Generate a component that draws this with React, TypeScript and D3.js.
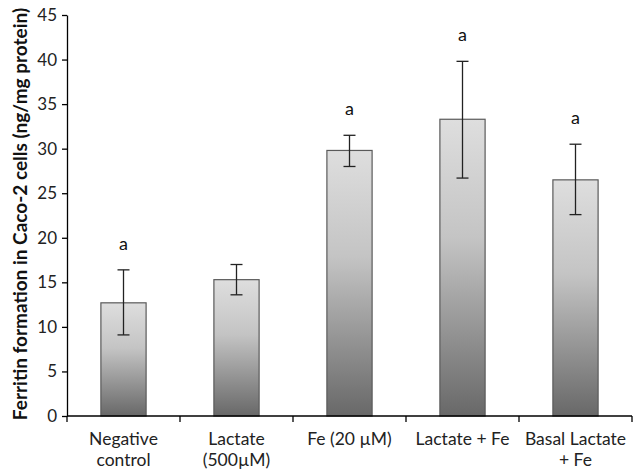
import React, { useEffect, useRef } from "react";
import * as d3 from "d3";

const categories = ["Negative|control", "Lactate|(500µM)", "Fe (20 µM)", "Lactate + Fe", "Basal Lactate|+ Fe"];
const values = [12.7, 15.3, 29.8, 33.3, 26.5];
const errLow = [9.1, 13.6, 28.0, 26.7, 22.6];
const errHigh = [16.4, 17.0, 31.5, 39.8, 30.5];
const letters = ["a", "", "a", "a", "a"];
const yTicks = [0, 5, 10, 15, 20, 25, 30, 35, 40, 45];

export default function App() {
  const ref = useRef<SVGSVGElement>(null);

  useEffect(() => {
    const svg = d3.select(ref.current);
    svg.selectAll("*").remove();
    const font = "Lato, 'Open Sans', sans-serif";
    const left = 67, right = 632, top = 15, bottom = 416;

    const x = d3.scaleBand().domain(categories).range([left, right]).padding(0);
    const y = d3.scaleLinear().domain([0, 45]).range([bottom, top]);

    const grad = svg.append("defs").append("linearGradient")
      .attr("id", "barGrad").attr("x1", 0).attr("y1", 0).attr("x2", 0).attr("y2", 1)
      .attr("gradientUnits", "objectBoundingBox");
    grad.append("stop").attr("offset", "0%").attr("stop-color", "#dedede");
    grad.append("stop").attr("offset", "40%").attr("stop-color", "#c4c4c4");
    grad.append("stop").attr("offset", "100%").attr("stop-color", "#686868");

    const bw = x.bandwidth() * 0.4;
    const cx = (c: string) => (x(c) as number) + x.bandwidth() / 2;

    // bars
    svg.append("g").selectAll("rect").data(categories).enter().append("rect")
      .attr("x", d => cx(d) - bw / 2)
      .attr("y", (d, i) => y(values[i]))
      .attr("width", bw)
      .attr("height", (d, i) => y(0) - y(values[i]))
      .attr("fill", "url(#barGrad)")
      .attr("stroke", "#5a5a5a")
      .attr("stroke-width", 1.2);

    // error bars
    const eg = svg.append("g").attr("stroke", "#222").attr("stroke-width", 1.3);
    categories.forEach((c, i) => {
      const xc = cx(c);
      eg.append("line").attr("x1", xc).attr("x2", xc).attr("y1", y(errLow[i])).attr("y2", y(errHigh[i]));
      eg.append("line").attr("x1", xc - 6).attr("x2", xc + 6).attr("y1", y(errLow[i])).attr("y2", y(errLow[i]));
      eg.append("line").attr("x1", xc - 6).attr("x2", xc + 6).attr("y1", y(errHigh[i])).attr("y2", y(errHigh[i]));
      if (letters[i]) {
        svg.append("text").attr("x", xc).attr("y", y(errHigh[i]) - 20)
          .attr("text-anchor", "middle").attr("font-family", font).attr("font-size", 18)
          .attr("fill", "#111").text(letters[i]);
      }
    });

    // y axis
    const ya = svg.append("g").attr("transform", `translate(${left},0)`)
      .call(d3.axisLeft(y).tickValues(yTicks).tickSize(5).tickSizeOuter(0));
    ya.select(".domain").attr("stroke", "#000").attr("stroke-width", 1.3);
    ya.selectAll(".tick line").attr("stroke", "#000").attr("stroke-width", 1.3);
    ya.selectAll("text").attr("font-family", font).attr("font-size", 17).attr("fill", "#222").attr("x", -10);

    // x axis
    const xa = svg.append("g");
    xa.append("line").attr("x1", left).attr("x2", right).attr("y1", bottom).attr("y2", bottom)
      .attr("stroke", "#000").attr("stroke-width", 1.3);
    const bounds = categories.map(c => x(c) as number).concat([right]);
    xa.selectAll(".tk").data(bounds).enter().append("line")
      .attr("x1", d => d).attr("x2", d => d).attr("y1", bottom).attr("y2", bottom + 6)
      .attr("stroke", "#000").attr("stroke-width", 1.3);
    categories.forEach(c => {
      const t = xa.append("text").attr("x", cx(c)).attr("y", 445)
        .attr("text-anchor", "middle").attr("font-family", font).attr("font-size", 17.5).attr("fill", "#222");
      c.split("|").forEach((line, j) => {
        t.append("tspan").attr("x", cx(c)).attr("dy", j === 0 ? 0 : 21).text(line);
      });
    });

    // y title
    svg.append("text")
      .attr("transform", `translate(27,214) rotate(-90)`)
      .attr("text-anchor", "middle").attr("font-family", font).attr("font-size", 19)
      .attr("font-weight", "bold").attr("fill", "#111")
      .text("Ferritin formation in Caco-2 cells (ng/mg protein)");
  }, []);

  return (
    <svg ref={ref} width={638} height={470}
      style={{ position: "absolute", left: 0, top: 0, background: "#fff" }} />
  );
}
